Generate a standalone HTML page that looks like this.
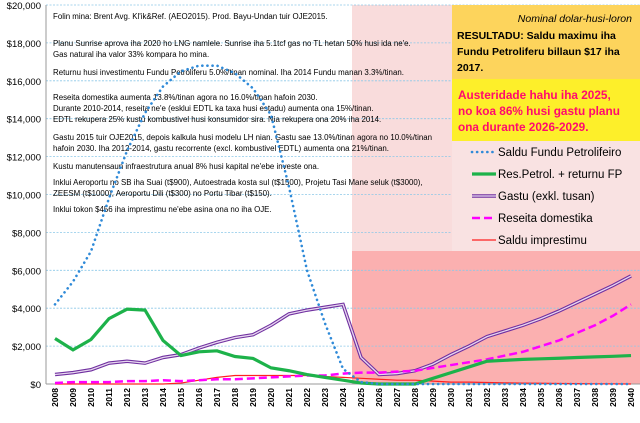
<!DOCTYPE html>
<html><head><meta charset="utf-8"><style>
body{margin:0;background:#fff;font-family:"Liberation Sans",sans-serif}
svg text{font-family:"Liberation Sans",sans-serif}
</style></head><body>
<svg id="c" width="640" height="418">
<rect x="352" y="5" width="288" height="246" fill="#f9dcdc"/>
<rect x="352" y="251" width="288" height="133" fill="#fbb0b0"/>
<g id="grid"></g><g id="axes"></g>
<g id="notes" font-size="7.9" fill="#000">
<text x="53" y="19">Folin mina: Brent Avg. Kl'ik&amp;Ref. (AEO2015).   Prod. Bayu-Undan tuir OJE2015.</text>
<text x="53" y="46">Planu Sunrise aprova iha 2020 ho LNG namlele. Sunrise iha 5.1tcf gas no TL hetan 50% husi ida ne'e.</text>
<text x="53" y="57">Gas natural iha valor 33% kompara ho mina.</text>
<text x="53" y="75">Returnu husi investimentu Fundu Petroliferu 5.0%/tinan nominal.    Iha 2014 Fundu manan 3.3%/tinan.</text>
<text x="53" y="100">Reseita domestika aumenta 13.8%/tinan agora no 16.0%/tinan hafoin 2030.</text>
<text x="53" y="111">Durante 2010-2014, reseita ne'e (esklui EDTL ka taxa husi estadu) aumenta ona 15%/tinan.</text>
<text x="53" y="122">EDTL rekupera 25% kustu kombustivel husi konsumidor sira. Nia rekupera ona 20% iha 2014.</text>
<text x="53" y="140">Gastu 2015 tuir OJE2015, depois kalkula husi modelu LH nian. Gastu sae 13.0%/tinan agora no 10.0%/tinan</text>
<text x="53" y="151">hafoin 2030. Iha 2012-2014, gastu recorrente (excl. kombustivel EDTL) aumenta ona 21%/tinan.</text>
<text x="53" y="169">Kustu manutensaun infraestrutura anual 8% husi kapital ne'ebe investe ona.</text>
<text x="53" y="185">Inklui Aeroportu no SB iha Suai (t$900), Autoestrada kosta sul (t$1500), Projetu Tasi Mane seluk (t$3000),</text>
<text x="53" y="196">ZEESM (t$1000), Aeroportu Dili (t$300) no Portu Tibar (t$150).</text>
<text x="53" y="212">Inklui tokon $456 iha imprestimu ne'ebe asina ona no iha OJE.</text>
</g>
<g id="series"></g>
<rect x="452" y="5" width="188" height="74" fill="#fdd45c"/>
<text x="632" y="22" font-size="10.5" font-style="italic" text-anchor="end">Nominal dolar-husi-loron</text>
<g font-size="10.5" font-weight="bold">
<text x="457" y="39">RESULTADU: Saldu maximu iha</text>
<text x="457" y="55">Fundu Petroliferu billaun $17 iha</text>
<text x="457" y="71">2017.</text></g>
<rect x="452" y="79" width="188" height="62" fill="#fdef2a"/>
<g font-size="11.8" font-weight="bold" fill="#ff0a6e">
<text x="458" y="99">Austeridade hahu iha 2025,</text>
<text x="458" y="115">no koa 86% husi gastu planu</text>
<text x="458" y="131">ona durante 2026-2029.</text></g>
<rect x="452" y="141" width="188" height="110" fill="#f9e2e2"/>
<g id="legend" font-size="11.5"></g>
</svg>
<script>
const years=[];for(let y=2008;y<=2040;y++)years.push(y);
const yTicks=[0,2000,4000,6000,8000,10000,12000,14000,16000,18000,20000];
const saldoFP=[4200,5400,7000,9800,12300,14300,15700,16500,16800,16800,16400,15600,14200,10400,6000,3200,800,100,0,0,0,0,0,0,0,0,0,0,0,0,0,0,0];
const resPetrol=[2400,1800,2350,3450,3950,3900,2300,1500,1700,1750,1450,1350,850,700,500,350,200,50,0,0,0,300,600,900,1200,1250,1300,1330,1360,1400,1430,1460,1500];
const gastu=[500,600,750,1100,1200,1100,1400,1550,1900,2200,2450,2600,3100,3700,3900,4050,4200,1400,500,550,700,1050,1550,2000,2500,2800,3100,3450,3850,4300,4750,5200,5700];
const reseita=[50,100,100,100,150,150,200,150,200,250,250,300,350,400,450,450,550,600,600,650,700,850,1000,1150,1300,1500,1700,2000,2300,2700,3100,3600,4200];
const imprestimu=[0,0,0,0,0,0,0,50,200,350,450,450,450,450,450,400,350,300,250,200,200,150,100,100,80,60,50,40,30,20,10,5,0];
const NS="http://www.w3.org/2000/svg";
const X0=46,BW=18,Y0=384,Y1=5;
const xs=i=>X0+i*BW+BW/2, ys=v=>Y0-(v/20000)*(Y0-Y1);
function el(t,a,p){const e=document.createElementNS(NS,t);for(const k in a)e.setAttribute(k,a[k]);p.appendChild(e);return e;}
const grid=document.getElementById('grid'),axes=document.getElementById('axes'),ser=document.getElementById('series'),leg=document.getElementById('legend');
yTicks.forEach(v=>{
 const l=el('line',{x1:X0,x2:640,y1:ys(v),y2:ys(v),stroke:'#8cc8e8','stroke-width':0.8,'stroke-dasharray':'2,1.5'},grid);
 
 
 const t=el('text',{x:41,y:ys(v)+4,'text-anchor':'end','font-size':9.5},axes);
 t.textContent='$'+v.toLocaleString('en-US');
 
 
});
const ax=el('line',{x1:X0,x2:X0,y1:Y1,y2:Y0,stroke:'#999'},axes);


const bx=el('line',{x1:X0,x2:640,y1:Y0,y2:Y0,stroke:'#999'},axes);


years.forEach((y,i)=>{
 const t=el('text',{x:0,y:0,'font-size':8.5,'font-weight':'bold','text-anchor':'end',transform:`translate(${xs(i)+3},${Y0+4}) rotate(-90)`},axes);
 t.textContent=y;
 
 
});
const pts=a=>a.map((v,i)=>xs(i)+','+ys(v)).join(' ');
function line(a,attrs,name){const p=el('polyline',Object.assign({points:pts(a),fill:'none'},attrs),ser);return p;}
line(imprestimu,{stroke:'#ff2020','stroke-width':1.2},'saldu-imprestimu-line');
line(gastu,{stroke:'#7030a0','stroke-width':3.5},'gastu-line-outer');
line(gastu,{stroke:'#e8d8f0','stroke-width':1.3},'gastu-line-inner');
line(reseita,{stroke:'#ff00ff','stroke-width':2.5,'stroke-dasharray':'8,4'},'reseita-line');
line(resPetrol,{stroke:'#1db24a','stroke-width':3.2},'res-petrol-line');
line(saldoFP,{stroke:'#2f8ad8','stroke-width':2.6,'stroke-dasharray':'0.1,5','stroke-linecap':'round'},'saldu-fundu-line');
const L=[['Saldu Fundu Petrolifeiro',{stroke:'#2f8ad8','stroke-width':2.6,'stroke-dasharray':'0.1,5','stroke-linecap':'round'},'legend-saldu-fundu'],
['Res.Petrol. + returnu FP',{stroke:'#1db24a','stroke-width':3.2},'legend-res-petrol'],
['Gastu (exkl. tusan)',{stroke:'#7030a0','stroke-width':3.5},'legend-gastu'],
['Reseita domestika',{stroke:'#ff00ff','stroke-width':2.5,'stroke-dasharray':'8,4'},'legend-reseita'],
['Saldu imprestimu',{stroke:'#ff2020','stroke-width':1.2},'legend-imprestimu']];
L.forEach((d,i)=>{const y=152+i*22;
 const g=el('g',{},leg);
 
 
 el('line',Object.assign({x1:472,x2:496,y1:y,y2:y},d[1]),g);
 if(i==2)el('line',{x1:472,x2:496,y1:y,y2:y,stroke:'#e8d8f0','stroke-width':1.3},g);
 const t=el('text',{x:498,y:y+4,'font-size':11.5},g);t.textContent=d[0];});
</script>
</body></html>
